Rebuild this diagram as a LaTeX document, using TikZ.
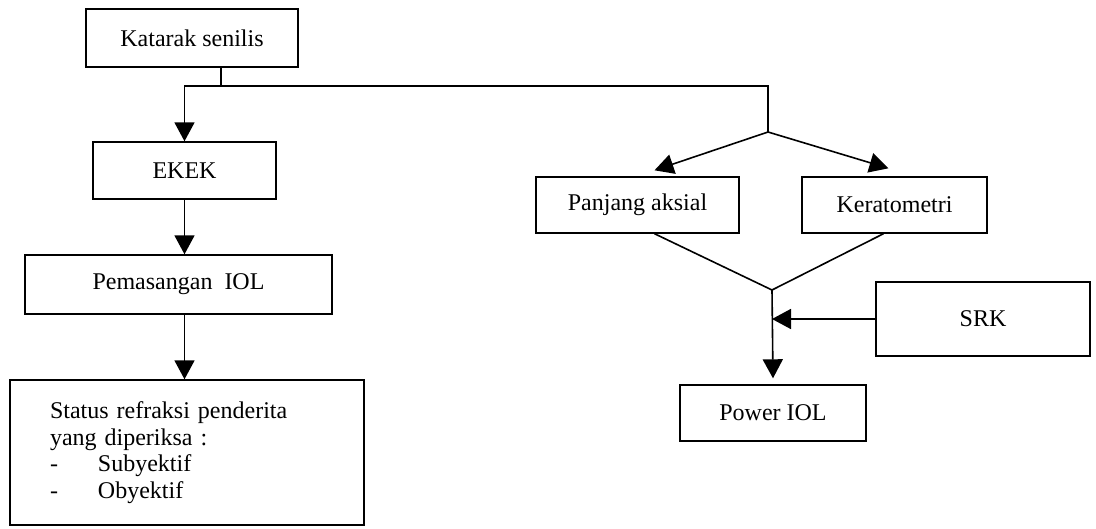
\documentclass[tikz,border=0pt]{standalone}
\usepackage{fontspec}
\setmainfont{Liberation Serif}
\usetikzlibrary{arrows.meta,calc}
\begin{document}
\begin{tikzpicture}[x=1pt,y=-1pt,
  every node/.style={font=\fontsize{24}{26.5}\selectfont},
  box/.style={draw, line width=1.4pt, inner sep=0pt, align=center},
  conn/.style={line width=1.6pt},
  arr/.style={conn, -{Triangle[length=19pt,width=20pt]}}]
\useasboundingbox (0,0) rectangle (1096,528);
\node[box, minimum width=212pt, minimum height=58pt] (kat) at (192,38) {Katarak senilis};
\node[box, minimum width=183pt, minimum height=57pt] (ekek) at (184.5,170.5) {EKEK};
\node[box, minimum width=307pt, minimum height=59pt] (pem) at (178.5,284.5) {Pemasangan\ \ IOL};
\node[box, minimum width=354pt, minimum height=145pt, inner xsep=40pt, text width=274pt, align=left] (stat) at (187,452.5)
  {Status refraksi penderita\\yang diperiksa :\\\makebox[48pt][l]{-}Subyektif\\\makebox[48pt][l]{-}Obyektif};
\node[box, minimum width=203pt, minimum height=56pt] (pa) at (637.5,205) {Panjang aksial};
\node[box, minimum width=185pt, minimum height=56pt] (ker) at (894.5,205) {Keratometri};
\node[box, minimum width=186pt, minimum height=56pt] (pow) at (773,413) {Power IOL};
\node[box, minimum width=214pt, minimum height=74pt] (srk) at (983,319) {SRK};
\coordinate (top) at ($(kat.south)+(29,0)$);
\coordinate (bar) at ($(top)+(0,18)$);
\coordinate (fork) at (768,132);
\coordinate (apex) at (772,290);
\draw[conn] (top) -- (bar);
\draw[arr] (bar) -| (ekek.north);
\draw[conn] (bar) -| (fork);
\draw[arr] (ekek.south) -- (ekek.south |- pem.north);
\draw[arr] (ekek.south |- pem.south) -- (ekek.south |- stat.north);
\draw[arr] (fork) -- ([xshift=17pt,yshift=6pt]pa.north);
\draw[arr] (fork) -- ([xshift=-6pt,yshift=8pt]ker.north);
\draw[conn] ([xshift=17pt]pa.south) -- (apex) -- ([xshift=-11pt]ker.south);
\draw[arr] (apex) -- ([yshift=6pt]pow.north);
\draw[arr] (srk.west) -- (apex |- srk.west);
\end{tikzpicture}
\end{document}
